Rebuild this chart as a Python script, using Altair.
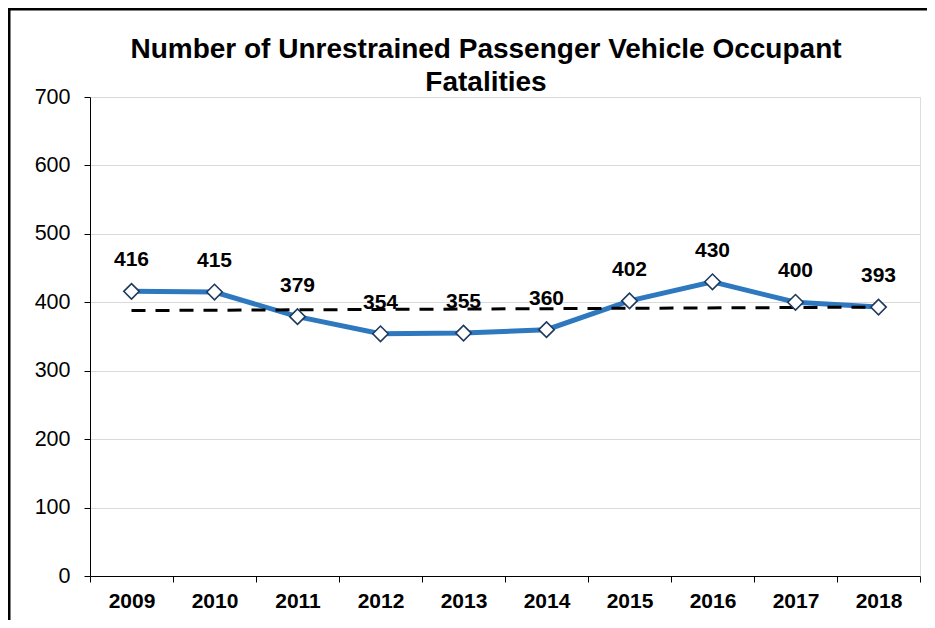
import altair as alt
import pandas as pd

years = [2009, 2010, 2011, 2012, 2013, 2014, 2015, 2016, 2017, 2018]
fatalities = [416, 415, 379, 354, 355, 360, 402, 430, 400, 393]
y_ticks = [0, 100, 200, 300, 400, 500, 600, 700]
title_lines = ["Number of Unrestrained Passenger Vehicle Occupant", "Fatalities"]

df = pd.DataFrame({"yr": years, "value": fatalities})

FONT = "Liberation Sans"
BLUE = "#2E78C0"

x_enc = alt.X(
    "yr:O",
    scale=alt.Scale(type="band", paddingInner=0, paddingOuter=0),
    axis=alt.Axis(
        title=None, labelAngle=0, tickBand="extent", grid=False,
        domainColor="black", domainWidth=1, tickColor="black", tickSize=6, tickWidth=1,
        labelFont=FONT, labelFontSize=21, labelFontWeight="bold", labelColor="black",
        labelPadding=8,
    ),
)
y_enc = alt.Y(
    "value:Q",
    scale=alt.Scale(domain=[0, 700], nice=False, zero=True),
    axis=alt.Axis(
        title=None, values=y_ticks, grid=True, gridColor="#d9d9d9", gridWidth=1.2,
        domainColor="black", domainWidth=1, tickColor="black", tickSize=6, tickWidth=1,
        labelFont=FONT, labelFontSize=21.5, labelColor="black", labelPadding=14,
    ),
)

base = alt.Chart(df)

line = base.mark_line(color=BLUE, strokeWidth=5).encode(x=x_enc, y=y_enc)

trend = base.transform_regression("yr", "value").mark_line(
    color="black", strokeWidth=3, strokeDash=[14, 10]
).encode(x="yr:O", y="value:Q")

points = base.mark_point(
    shape="diamond", filled=True, fill="white", stroke="#1F3A5F",
    strokeWidth=1.6, size=240, opacity=1
).encode(x="yr:O", y="value:Q")

labels = base.mark_text(
    dy=-31, font=FONT, fontSize=21, fontWeight="bold", color="black"
).encode(x="yr:O", y="value:Q", text="value:Q")

frame_df = pd.DataFrame({"k": [0]})
frame_left = alt.Chart(frame_df).mark_rule(color="black", strokeWidth=3).encode(
    x=alt.value(-81), y=alt.value(-88), y2=alt.value(540)
)
frame_top = alt.Chart(frame_df).mark_rule(color="black", strokeWidth=3).encode(
    x=alt.value(-82), x2=alt.value(840), y=alt.value(-88)
)

chart = alt.layer(line, trend, points, labels, frame_left, frame_top).properties(
    width=830,
    height=479,
    padding={"left": 82, "top": 89, "right": 7, "bottom": 44},
    autosize="none",
    title=alt.TitleParams(
        text=title_lines, font=FONT, fontSize=28, fontWeight="bold", color="black",
        anchor="middle", frame="group", dx=-19, offset=-89, lineHeight=33,
    ),
).configure_view(stroke=None).configure(background="white")

chart.save("out.html", embed_options={"renderer": "svg", "actions": False})
